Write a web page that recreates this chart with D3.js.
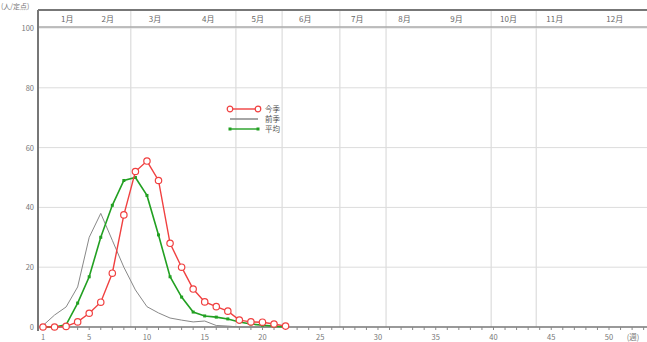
<!DOCTYPE html>
<html>
<head>
<meta charset="utf-8">
<script src="https://cdn.jsdelivr.net/npm/d3@7"></script>
<style>
  body { margin: 0; background: #fff; }
  svg { display: block; font-family: "Noto Sans CJK JP", "DejaVu Sans", sans-serif; }
</style>
</head>
<body>
<div id="chart"></div>
<script>
// week numbers on the x axis
const weeks = d3.range(1, 23);
const seriesNames = ["今季", "前季", "平均"];
// red (this season), weekly
const thisSeason = [0, 0, 0.2, 1.7, 4.6, 8.3, 18, 37.5, 52, 55.5, 49, 28, 20, 12.7, 8.4, 6.8, 5.3, 2.3, 1.7, 1.6, 1, 0.3];
// grey (last season)
const lastSeason = [0.5, 4, 6.7, 13.4, 30, 38, 29, 20, 12.4, 6.8, 4.7, 3, 2.3, 1.7, 2, 0.5, 0.3, 0, 0, 0, 0, 0];
// green (average)
const average = [0, 0, 0.7, 8, 16.8, 30, 40.7, 49, 50, 44, 30.8, 16.8, 10, 5, 3.7, 3.3, 2.7, 1.7, 1, 0.6, 0.3, 0];
const yTicks = [0, 20, 40, 60, 80, 100];
const xLabelWeeks = [1, 5, 10, 15, 20, 25, 30, 35, 40, 45, 50];
const months = ["1月", "2月", "3月", "4月", "5月", "6月", "7月", "8月", "9月", "10月", "11月", "12月"];
const monthWeeks = [3.1, 6.6, 10.7, 15.3, 19.6, 23.7, 28.2, 32.3, 36.8, 41.3, 45.3, 50.5];
const vGridWeeks = [8.6, 17.7, 21.7, 26.7, 30.7, 39.8, 43.7];

const W = 647, H = 342;
const svg = d3.select("#chart").append("svg").attr("width", W).attr("height", H);

const x = d3.scaleLinear().domain([1, 50]).range([43, 609]);
const y = d3.scaleLinear().domain([0, 100]).range([327, 28]);
const left = 38, headTop = 10, headBot = 27;

// horizontal grid
svg.append("g").selectAll("line").data(yTicks.filter(d => d > 0)).enter().append("line")
  .attr("x1", left).attr("x2", W).attr("y1", d => y(d)).attr("y2", d => y(d))
  .attr("stroke", "#dcdcdc").attr("stroke-width", 1);

// vertical grid (also through the month header)
svg.append("g").selectAll("line").data(vGridWeeks).enter().append("line")
  .attr("x1", d => x(d)).attr("x2", d => x(d)).attr("y1", headTop).attr("y2", y(0))
  .attr("stroke", "#dcdcdc").attr("stroke-width", 1.2);

// month header band
svg.append("line").attr("x1", left).attr("x2", W).attr("y1", headTop).attr("y2", headTop)
  .attr("stroke", "#777").attr("stroke-width", 2);
svg.append("line").attr("x1", left).attr("x2", W).attr("y1", headBot).attr("y2", headBot)
  .attr("stroke", "#aaa").attr("stroke-width", 1.5);
svg.append("g").selectAll("text").data(months).enter().append("text")
  .attr("x", (d, i) => x(monthWeeks[i])).attr("y", 22)
  .attr("text-anchor", "middle").attr("font-size", 8).attr("fill", "#666")
  .text(d => d);

// y axis
svg.append("line").attr("x1", left).attr("x2", left).attr("y1", headTop).attr("y2", 331)
  .attr("stroke", "#777").attr("stroke-width", 2);
svg.append("g").selectAll("text").data(yTicks).enter().append("text")
  .attr("x", 34).attr("y", d => y(d) + 3)
  .attr("text-anchor", "end").attr("font-size", 7.5).attr("fill", "#777")
  .text(d => d);

// x axis
svg.append("line").attr("x1", left).attr("x2", W).attr("y1", y(0)).attr("y2", y(0))
  .attr("stroke", "#777").attr("stroke-width", 1.5);
svg.append("g").selectAll("line").data(d3.range(1, 54)).enter().append("line")
  .attr("x1", d => x(d)).attr("x2", d => x(d)).attr("y1", y(0)).attr("y2", y(0) + 3)
  .attr("stroke", "#888");
svg.append("g").selectAll("text").data(xLabelWeeks).enter().append("text")
  .attr("x", d => x(d)).attr("y", 340)
  .attr("text-anchor", "middle").attr("font-size", 7.5).attr("fill", "#777")
  .text(d => d);
svg.append("text").attr("x", 633).attr("y", 340).attr("text-anchor", "middle")
  .attr("font-size", 7.5).attr("fill", "#777").text("(週)");

// unit label
svg.append("text").attr("x", 1).attr("y", 8.5).attr("font-size", 7).attr("fill", "#777").text("(人/定点)");

const line = d3.line().x((d, i) => x(weeks[i])).y(d => y(d));

svg.append("path").datum(lastSeason).attr("d", line)
  .attr("fill", "none").attr("stroke", "#888").attr("stroke-width", 1);

svg.append("path").datum(average).attr("d", line)
  .attr("fill", "none").attr("stroke", "#22a022").attr("stroke-width", 1.6);
svg.append("g").selectAll("rect").data(average).enter().append("rect")
  .attr("x", (d, i) => x(weeks[i]) - 1.5).attr("y", d => y(d) - 1.5)
  .attr("width", 3).attr("height", 3).attr("fill", "#22a022");

svg.append("path").datum(thisSeason).attr("d", line)
  .attr("fill", "none").attr("stroke", "#f04040").attr("stroke-width", 1.4);
svg.append("g").selectAll("circle").data(thisSeason).enter().append("circle")
  .attr("cx", (d, i) => x(weeks[i])).attr("cy", d => y(d)).attr("r", 3.2)
  .attr("fill", "#fff").attr("stroke", "#f04040").attr("stroke-width", 1.2);

// legend
const lg = svg.append("g").attr("transform", "translate(230,109)");
const legColors = ["#f04040", "#888", "#22a022"];
seriesNames.forEach((name, i) => {
  const g = lg.append("g").attr("transform", `translate(0,${i * 10})`);
  g.append("line").attr("x1", 0).attr("x2", 28).attr("stroke", legColors[i])
    .attr("stroke-width", i === 1 ? 1.5 : 1.4);
  if (i === 0) {
    [0, 28].forEach(cx => g.append("circle").attr("cx", cx).attr("r", 2.8)
      .attr("fill", "#fff").attr("stroke", legColors[i]).attr("stroke-width", 1.2));
  } else if (i === 2) {
    [0, 28].forEach(cx => g.append("rect").attr("x", cx - 1.5).attr("y", -1.5)
      .attr("width", 3).attr("height", 3).attr("fill", legColors[i]));
  }
  g.append("text").attr("x", 35).attr("y", 3).attr("font-size", 7.5).attr("fill", "#555").text(name);
});
</script>
</body>
</html>
